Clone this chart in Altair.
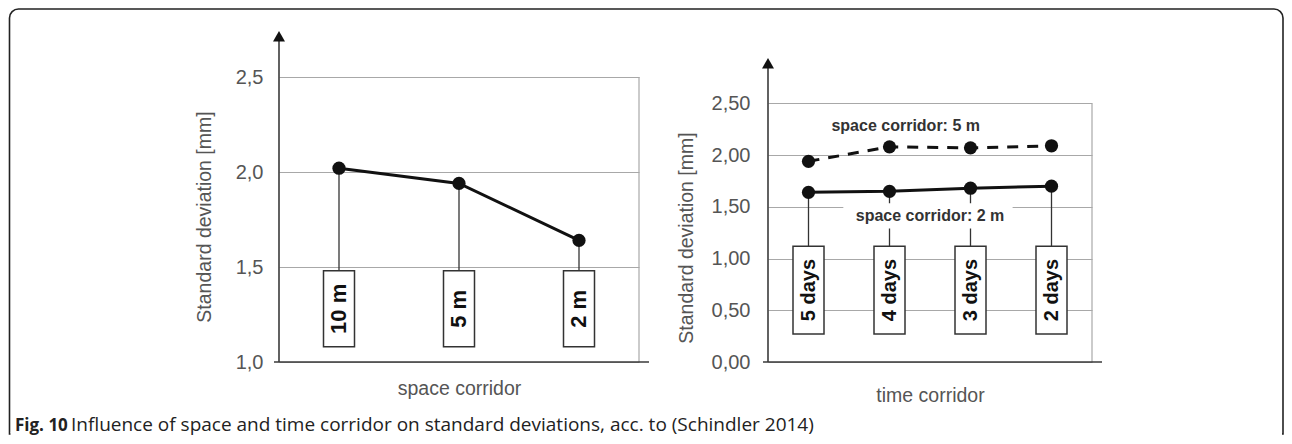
import altair as alt
import pandas as pd

# ---------------- data ----------------
space_cats = ["10 m", "5 m", "2 m"]
space_sd = [2.02, 1.94, 1.64]

time_cats = ["5 days", "4 days", "3 days", "2 days"]
time_sd_5m = [1.94, 2.08, 2.07, 2.09]
time_sd_2m = [1.64, 1.65, 1.68, 1.70]

left_ticks = [1.0, 1.5, 2.0, 2.5]
right_ticks = [0.0, 0.5, 1.0, 1.5, 2.0, 2.5]

label_5m = "space corridor: 5 m"
label_2m = "space corridor: 2 m"
left_xtitle = "space corridor"
right_xtitle = "time corridor"
ytitle = "Standard deviation [mm]"
caption_bold = "Fig. 10"
caption_rest = "Influence of space and time corridor on standard deviations, acc. to (Schindler 2014)"

# ---------------- style / layout ----------------
FONT = "Liberation Sans"
CAP_FONT = "Open Sans"
TXT = "#555555"
GRID = "#a8a8a8"
AXIS = "#3a3a3a"
LW, LH = 360, 285
RW, RH = 324, 285
L_DOM = [1.0, 2.5]
R_DOM = [0.0, 2.755]
L_BOX = (1.48, 1.08)
R_BOX = (1.12, 0.27)

one = pd.DataFrame({"k": [0]})


def y_axis(values, fmt, pad, tx, ty):
    return alt.Axis(
        values=values,
        labelExpr=f"replace(format(datum.value, '{fmt}'), '.', ',')",
        grid=True, gridColor=GRID, gridWidth=1.2,
        ticks=False, domain=False, labelPadding=pad,
        labelFont=FONT, labelFontSize=20, labelColor=TXT,
        title=ytitle, titleFont=FONT, titleFontSize=19.5, titleColor=TXT,
        titleFontWeight="normal", titleAngle=270, titleX=tx, titleY=ty,
        titleBaseline="middle", titleAlign="center",
    )


def x_axis(title, ty):
    return alt.Axis(
        title=title, labels=False, ticks=False, domain=False, grid=False,
        titleFont=FONT, titleFontSize=19.5, titleColor=TXT,
        titleFontWeight="normal", titleY=ty, titleBaseline="alphabetic",
    )


def decorations(w, h, arrow_tip):
    xline = alt.Chart(one).mark_rule(color=AXIS, strokeWidth=1.6).encode(
        x=alt.value(-5), x2=alt.value(w + 10), y=alt.value(h))
    yline = alt.Chart(one).mark_rule(color=AXIS, strokeWidth=1.6).encode(
        x=alt.value(0), y=alt.value(h), y2=alt.value(arrow_tip + 8))
    arrow = alt.Chart(one).mark_point(shape="triangle-up", filled=True, size=144,
                                      color="#111", opacity=1).encode(
        x=alt.value(0), y=alt.value(arrow_tip + 8.2))
    return [xline, yline, arrow]


# ---------------- left panel ----------------
dl = pd.DataFrame({
    "pos": list(range(len(space_cats))),
    "cat": space_cats,
    "value": space_sd,
})
dl["top"] = L_BOX[0]
dl["bottom"] = L_BOX[1]
dl["mid"] = (L_BOX[0] + L_BOX[1]) / 2

lxs = alt.Scale(domain=[-0.5, len(space_cats) - 0.5], nice=False, zero=False, padding=0)
lys = alt.Scale(domain=L_DOM, nice=False, zero=False, padding=0)
lxa = x_axis(left_xtitle, 32)
lya = y_axis(left_ticks, ".1f", 16, -74.5, 139.5)


def LX(f):
    return alt.X(f, type="quantitative", scale=lxs, axis=lxa)


def LY(f):
    return alt.Y(f, type="quantitative", scale=lys, axis=lya)


lb = pd.DataFrame({"pos": [len(space_cats) - 0.5], "value": [L_DOM[0]], "top": [2.5]})
l_border = alt.Chart(lb).mark_rule(color=GRID, strokeWidth=1.2).encode(
    x=LX("pos"), y=LY("value"), y2="top")
l_stems = alt.Chart(dl).mark_rule(color="#333", strokeWidth=1.3).encode(
    x=LX("pos"), y=LY("value"), y2="top")
l_boxes = alt.Chart(dl).mark_bar(width=31, orient="vertical", fill="white",
                                 stroke="#333", strokeWidth=1.5).encode(
    x=LX("pos"), y=LY("top"), y2="bottom")
l_boxtxt = alt.Chart(dl).mark_text(angle=270, font=FONT, fontSize=22, fontWeight="bold",
                                   color="#111", align="center", baseline="middle").encode(
    x=LX("pos"), y=LY("mid"), text="cat")
l_line = alt.Chart(dl).mark_line(color="#111", strokeWidth=3).encode(
    x=LX("pos"), y=LY("value"))
l_pts = alt.Chart(dl).mark_circle(color="#111", size=175, opacity=1).encode(
    x=LX("pos"), y=LY("value"))

# frame + caption (page decoration) attached to left panel
frame = alt.Chart(one).mark_rect(cornerRadiusTopLeft=9, cornerRadiusTopRight=9,
                                 fill="white", fillOpacity=0, stroke="#222",
                                 strokeWidth=1.6).encode(
    x=alt.value(-269.5), x2=alt.value(1004), y=alt.value(-68), y2=alt.value(357))
frame_cut = alt.Chart(one).mark_rule(color="white", strokeWidth=3).encode(
    x=alt.value(-268.5), x2=alt.value(1003), y=alt.value(357))
cap = pd.DataFrame({"t": [caption_bold]})
cap2 = pd.DataFrame({"t": [caption_rest]})
cap_b = alt.Chart(cap).mark_text(font=CAP_FONT, fontSize=17, fontWeight="bold",
                                 color="#222", align="left", baseline="alphabetic").encode(
    x=alt.value(-264), y=alt.value(354), text="t")
cap_r = alt.Chart(cap2).mark_text(font=CAP_FONT, fontSize=19, fontWeight="normal",
                                  color="#222", align="left", baseline="alphabetic").encode(
    x=alt.value(-208), y=alt.value(354), text="t")

left = alt.layer(
    frame, l_border, l_stems, l_boxes, l_boxtxt, l_line, l_pts,
    *decorations(LW, LH, -49), frame_cut, cap_b, cap_r,
).properties(width=LW, height=LH)

# ---------------- right panel ----------------
dr = pd.DataFrame({
    "pos": list(range(len(time_cats))),
    "cat": time_cats,
    "v5": time_sd_5m,
    "v2": time_sd_2m,
})
dr["top"] = R_BOX[0]
dr["bottom"] = R_BOX[1]
dr["mid"] = (R_BOX[0] + R_BOX[1]) / 2

rxs = alt.Scale(domain=[-0.5, len(time_cats) - 0.5], nice=False, zero=False, padding=0)
rys = alt.Scale(domain=R_DOM, nice=False, zero=False, padding=0)
rxa = x_axis(right_xtitle, 39.7)
rya = y_axis(right_ticks, ".2f", 18, -81.5, 160.5)


def RX(f):
    return alt.X(f, type="quantitative", scale=rxs, axis=rxa)


def RY(f):
    return alt.Y(f, type="quantitative", scale=rys, axis=rya)


rb = pd.DataFrame({"pos": [len(time_cats) - 0.5], "v2": [0.0], "top": [2.5]})
r_border = alt.Chart(rb).mark_rule(color=GRID, strokeWidth=1.2).encode(
    x=RX("pos"), y=RY("v2"), y2="top")
r_stems = alt.Chart(dr).mark_rule(color="#333", strokeWidth=1.3).encode(
    x=RX("pos"), y=RY("v2"), y2="top")
lab = pd.DataFrame({
    "pos": [1.2, 1.5],
    "v2": [2.28, 1.415],
    "t": [label_5m, label_2m],
})
bg = pd.DataFrame({"pos": [0.43], "p2": [2.52], "v2": [1.29], "top": [1.535]})
r_bg = alt.Chart(bg).mark_rect(fill="white").encode(
    x=RX("pos"), x2="p2", y=RY("v2"), y2="top")
r_boxes = alt.Chart(dr).mark_bar(width=31, orient="vertical", fill="white",
                                 stroke="#333", strokeWidth=1.5).encode(
    x=RX("pos"), y=RY("top"), y2="bottom")
r_boxtxt = alt.Chart(dr).mark_text(angle=270, font=FONT, fontSize=20, fontWeight="bold",
                                   color="#111", align="center", baseline="middle").encode(
    x=RX("pos"), y=RY("mid"), text="cat")
r_line5 = alt.Chart(dr).mark_line(color="#111", strokeWidth=3, strokeDash=[11, 9]).encode(
    x=RX("pos"), y=RY("v5"))
r_pts5 = alt.Chart(dr).mark_circle(color="#111", size=175, opacity=1).encode(
    x=RX("pos"), y=RY("v5"))
r_line2 = alt.Chart(dr).mark_line(color="#111", strokeWidth=3).encode(
    x=RX("pos"), y=RY("v2"))
r_pts2 = alt.Chart(dr).mark_circle(color="#111", size=175, opacity=1).encode(
    x=RX("pos"), y=RY("v2"))
r_lab = alt.Chart(lab).mark_text(font=FONT, fontSize=16, fontWeight="bold",
                                 color="#333", align="center", baseline="middle").encode(
    x=RX("pos"), y=RY("v2"), text="t")

right = alt.layer(
    r_border, r_stems, r_bg, r_boxes, r_boxtxt, r_line5, r_pts5, r_line2, r_pts2,
    r_lab, *decorations(RW, RH, -22),
).properties(width=RW, height=RH)

chart = alt.hconcat(
    left, right, spacing=129, bounds="flush", padding=0, background="white"
).configure_view(stroke=None, strokeWidth=0)

chart.save("out.html", embed_options={"renderer": "svg", "actions": False})
